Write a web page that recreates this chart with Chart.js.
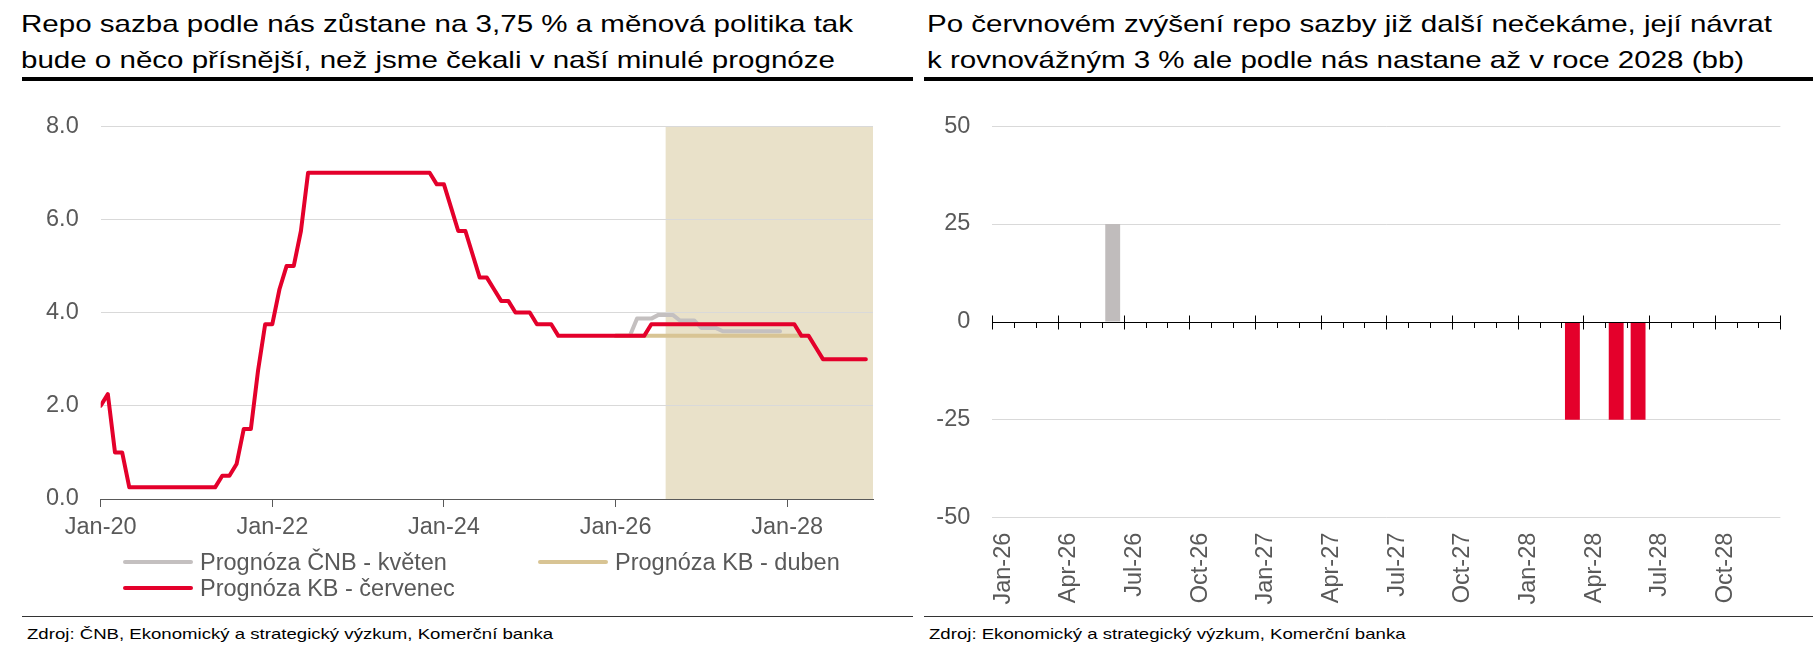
<!DOCTYPE html>
<html lang="cs">
<head>
<meta charset="utf-8">
<title>Repo sazba ČNB</title>
<script src="https://cdn.jsdelivr.net/npm/chart.js@4.4.1/dist/chart.umd.min.js"></script>
<style>
    body {
        margin: 0;
        width: 1813px;
        height: 654px;
        position: relative;
        overflow: hidden;
        background: #fff;
        font-family: "Liberation Sans", Arial, sans-serif;
    }
    .title {
        position: absolute;
        top: 6px;
        font-size: 24px;
        line-height: 36px;
        color: #000;
        white-space: nowrap;
        transform: scaleX(1.23);
        transform-origin: 0 0;
    }
    .rule { position: absolute; background: #000; }
    .thick { top: 77px; height: 4px; }
    .thin { top: 616px; height: 1px; background: #333; }
    .source {
        position: absolute;
        top: 625px;
        font-size: 15px;
        line-height: 18px;
        color: #000;
        white-space: nowrap;
        transform: scaleX(1.24);
        transform-origin: 0 0;
    }
    .box { position: absolute; top: 90px; }
    #legend {
        position: absolute;
        left: 123px;
        top: 549px;
        display: grid;
        grid-template-columns: 415px 320px;
        grid-auto-rows: 26px;
        font-size: 23.5px;
        color: #595959;
    }
    .item { display: flex; align-items: center; white-space: nowrap; }
    .item i { display: inline-block; width: 70px; height: 4px; border-radius: 2px; margin-right: 7px; }
</style>
</head>
<body>

<div class="title" style="left:21px">Repo sazba podle nás zůstane na 3,75 % a měnová politika tak<br>bude o něco přísnější, než jsme čekali v naší minulé prognóze</div>
<div class="title" style="left:927px">Po červnovém zvýšení repo sazby již další nečekáme, její návrat<br>k rovnovážným 3 % ale podle nás nastane až v roce 2028 (bb)</div>
<div class="rule thick" style="left:22px;width:891px"></div>
<div class="rule thick" style="left:924px;width:889px"></div>

<div class="box" style="left:0"><canvas id="rateChart" width="907" height="470"></canvas></div>
<div class="box" style="left:907px"><canvas id="changeChart" width="906" height="530"></canvas></div>
<div id="legend"></div>

<div class="rule thin" style="left:22px;width:891px"></div>
<div class="rule thin" style="left:924px;width:889px"></div>
<div class="source" style="left:27px">Zdroj: ČNB, Ekonomický a strategický výzkum, Komerční banka</div>
<div class="source" style="left:929px">Zdroj: Ekonomický a strategický výzkum, Komerční banka</div>

<script>
const RED = "#e4002b";
const GRAY = "#c4c0c0";
const TAN = "#d8c494";

// left chart: monthly repo rate, Jan-20 .. Dec-28 (index 0 = Jan-20)
const xTickLabels = ["Jan-20", "Jan-22", "Jan-24", "Jan-26", "Jan-28"];
const shadeRange = [79, 108];

const kbJuly = [
    2.00, 2.25, 1.00, 1.00, 0.25, 0.25, 0.25, 0.25, 0.25, 0.25, 0.25, 0.25, // 2020
    0.25, 0.25, 0.25, 0.25, 0.25, 0.50, 0.50, 0.75, 1.50, 1.50, 2.75, 3.75, // 2021
    3.75, 4.50, 5.00, 5.00, 5.75, 7.00, 7.00, 7.00, 7.00, 7.00, 7.00, 7.00, // 2022
    7.00, 7.00, 7.00, 7.00, 7.00, 7.00, 7.00, 7.00, 7.00, 7.00, 7.00, 6.75, // 2023
    6.75, 6.25, 5.75, 5.75, 5.25, 4.75, 4.75, 4.50, 4.25, 4.25, 4.00, 4.00, // 2024
    4.00, 3.75, 3.75, 3.75, 3.50, 3.50, 3.50, 3.50, 3.50, 3.50, 3.50, 3.50, // 2025
    3.50, 3.50, 3.50, 3.50, 3.50, 3.75, 3.75, 3.75, 3.75, 3.75, 3.75, 3.75, // 2026
    3.75, 3.75, 3.75, 3.75, 3.75, 3.75, 3.75, 3.75, 3.75, 3.75, 3.75, 3.75, // 2027
    3.75, 3.75, 3.50, 3.50, 3.25, 3.00, 3.00, 3.00, 3.00, 3.00, 3.00, 3.00  // 2028
];

const cnbMay = [
    null, null, null, null, null, null, null, null, null, null, null, null,
    null, null, null, null, null, null, null, null, null, null, null, null,
    null, null, null, null, null, null, null, null, null, null, null, null,
    null, null, null, null, null, null, null, null, null, null, null, null,
    null, null, null, null, null, null, null, null, null, null, null, null,
    null, null, null, null, null, null, null, null, null, null, null, null,
    3.50, 3.50, 3.50, 3.87, 3.87, 3.87, 3.95, 3.95, 3.95, 3.83, 3.83, 3.83, // 2026
    3.67, 3.67, 3.67, 3.60, 3.60, 3.60, 3.60, 3.60, 3.60, 3.60, 3.60, 3.60, // 2027
    null, null, null, null, null, null, null, null, null, null, null, null
];

const kbApril = [
    null, null, null, null, null, null, null, null, null, null, null, null,
    null, null, null, null, null, null, null, null, null, null, null, null,
    null, null, null, null, null, null, null, null, null, null, null, null,
    null, null, null, null, null, null, null, null, null, null, null, null,
    null, null, null, null, null, null, null, null, null, null, null, null,
    null, null, null, null, null, null, null, null, null, null, null, null,
    3.50, 3.50, 3.50, 3.50, 3.50, 3.50, 3.50, 3.50, 3.50, 3.50, 3.50, 3.50, // 2026
    3.50, 3.50, 3.50, 3.50, 3.50, 3.50, 3.50, 3.50, 3.50, 3.50, 3.50, 3.50, // 2027
    3.50, 3.50, 3.50, null, null, null, null, null, null, null, null, null  // 2028
];

// right chart: monthly change of the repo rate in bp
const barMonths = [
    "Jan-26", "Feb-26", "Mar-26", "Apr-26", "May-26", "Jun-26", "Jul-26", "Aug-26", "Sep-26", "Oct-26", "Nov-26", "Dec-26",
    "Jan-27", "Feb-27", "Mar-27", "Apr-27", "May-27", "Jun-27", "Jul-27", "Aug-27", "Sep-27", "Oct-27", "Nov-27", "Dec-27",
    "Jan-28", "Feb-28", "Mar-28", "Apr-28", "May-28", "Jun-28", "Jul-28", "Aug-28", "Sep-28", "Oct-28", "Nov-28", "Dec-28"
];
const hikeDone = [
    null, null, null, null, null, 25, null, null, null, null, null, null,
    null, null, null, null, null, null, null, null, null, null, null, null,
    null, null, null, null, null, null, null, null, null, null, null, null
];
const kbCuts = [
    null, null, null, null, null, null, null, null, null, null, null, null,
    null, null, null, null, null, null, null, null, null, null, null, null,
    null, null, -25, null, -25, -25, null, null, null, null, null, null
];

Chart.defaults.font.family = '"Liberation Sans", Arial, sans-serif';
Chart.defaults.font.size = 23.5;
Chart.defaults.color = "#595959";

function toPoints(values) {
    return values.map((v, i) => ({ x: i, y: v }));
}

const forecastShade = {
    id: "forecastShade",
    beforeDraw(chart) {
        const { ctx, chartArea, scales } = chart;
        const x0 = scales.x.getPixelForValue(shadeRange[0]);
        const x1 = scales.x.getPixelForValue(shadeRange[1]);
        ctx.save();
        ctx.fillStyle = "#e9e1c9";
        ctx.fillRect(x0, chartArea.top, x1 - x0, chartArea.bottom - chartArea.top);
        ctx.restore();
    },
};

const zeroAxis = {
    id: "zeroAxis",
    afterDatasetsDraw(chart) {
        const { ctx, chartArea, scales } = chart;
        const y0 = Math.round(scales.y.getPixelForValue(0)) + 0.5;
        const half = (scales.x.getPixelForValue(1) - scales.x.getPixelForValue(0)) / 2;
        ctx.save();
        ctx.strokeStyle = "#000";
        ctx.lineWidth = 1;
        ctx.beginPath();
        ctx.moveTo(chartArea.left, y0);
        ctx.lineTo(chartArea.right, y0);
        for (let i = 0; i <= barMonths.length; i++) {
            const px = Math.round(scales.x.getPixelForValue(i) - half) + 0.5;
            if (i % 3 === 0) {
                ctx.moveTo(px, y0 - 7);
                ctx.lineTo(px, y0 + 7);
            } else {
                ctx.moveTo(px, y0);
                ctx.lineTo(px, y0 + 5.5);
            }
        }
        ctx.stroke();
        ctx.restore();
    },
};

const rateChart = new Chart(document.getElementById("rateChart"), {
    type: "line",
    data: {
        datasets: [
            { label: "Prognóza ČNB - květen", data: toPoints(cnbMay), borderColor: GRAY, order: 2 },
            { label: "Prognóza KB - duben", data: toPoints(kbApril), borderColor: TAN, order: 1 },
            { label: "Prognóza KB - červenec", data: toPoints(kbJuly), borderColor: RED, order: 0 },
        ],
    },
    options: {
        responsive: false,
        animation: false,
        layout: { padding: { top: 32, right: 34, left: 0, bottom: 0 } },
        elements: {
            point: { radius: 0 },
            line: { borderWidth: 4, tension: 0, borderCapStyle: "round", borderJoinStyle: "round" },
        },
        plugins: { legend: { display: false }, tooltip: { enabled: false } },
        scales: {
            x: {
                type: "linear",
                min: 0,
                max: 108,
                afterFit: (s) => { s.height = 61; },
                grid: { drawOnChartArea: false, color: "#595959", tickLength: 8 },
                border: { color: "#595959" },
                ticks: {
                    stepSize: 24,
                    includeBounds: false,
                    autoSkip: false,
                    maxRotation: 0,
                    padding: 6,
                    callback: (v) => xTickLabels[v / 24],
                },
            },
            y: {
                min: 0,
                max: 8,
                afterFit: (s) => { s.width = 100.7; },
                grid: { color: "#d9d9d9", drawTicks: false },
                border: { display: false },
                ticks: { stepSize: 2, padding: 22, callback: (v) => v.toFixed(1) },
            },
        },
    },
    plugins: [forecastShade],
});

new Chart(document.getElementById("changeChart"), {
    type: "bar",
    data: {
        labels: barMonths,
        datasets: [
            { label: "Zvýšení repo sazby", data: hikeDone, backgroundColor: "#c0bcbc" },
            { label: "Prognóza KB - červenec", data: kbCuts, backgroundColor: RED },
        ],
    },
    options: {
        responsive: false,
        animation: false,
        layout: { padding: { top: 25.7, right: 27, left: 0, bottom: 0 } },
        datasets: { bar: { barPercentage: 0.68, categoryPercentage: 1 } },
        plugins: { legend: { display: false }, tooltip: { enabled: false } },
        scales: {
            x: {
                stacked: true,
                afterFit: (s) => { s.height = 102.3; },
                grid: { display: false, drawTicks: false },
                border: { display: false },
                ticks: {
                    autoSkip: false,
                    minRotation: 90,
                    maxRotation: 90,
                    padding: 15,
                    callback: function (v, i) { return i % 3 === 0 ? this.getLabelForValue(v) : ""; },
                },
            },
            y: {
                stacked: true,
                min: -50,
                max: 50,
                afterFit: (s) => { s.width = 85.3; },
                grid: { color: (c) => (c.tick.value === 0 ? "rgba(0,0,0,0)" : "#d9d9d9"), drawTicks: false },
                border: { display: false },
                ticks: { stepSize: 25, padding: 22 },
            },
        },
    },
    plugins: [zeroAxis],
});

// legend in two columns, built from the line datasets
const legend = document.getElementById("legend");
rateChart.data.datasets.forEach((ds) => {
    const item = document.createElement("div");
    item.className = "item";
    item.innerHTML = `<i style="background:${ds.borderColor}"></i><span>${ds.label}</span>`;
    legend.appendChild(item);
});
</script>
</body>
</html>
